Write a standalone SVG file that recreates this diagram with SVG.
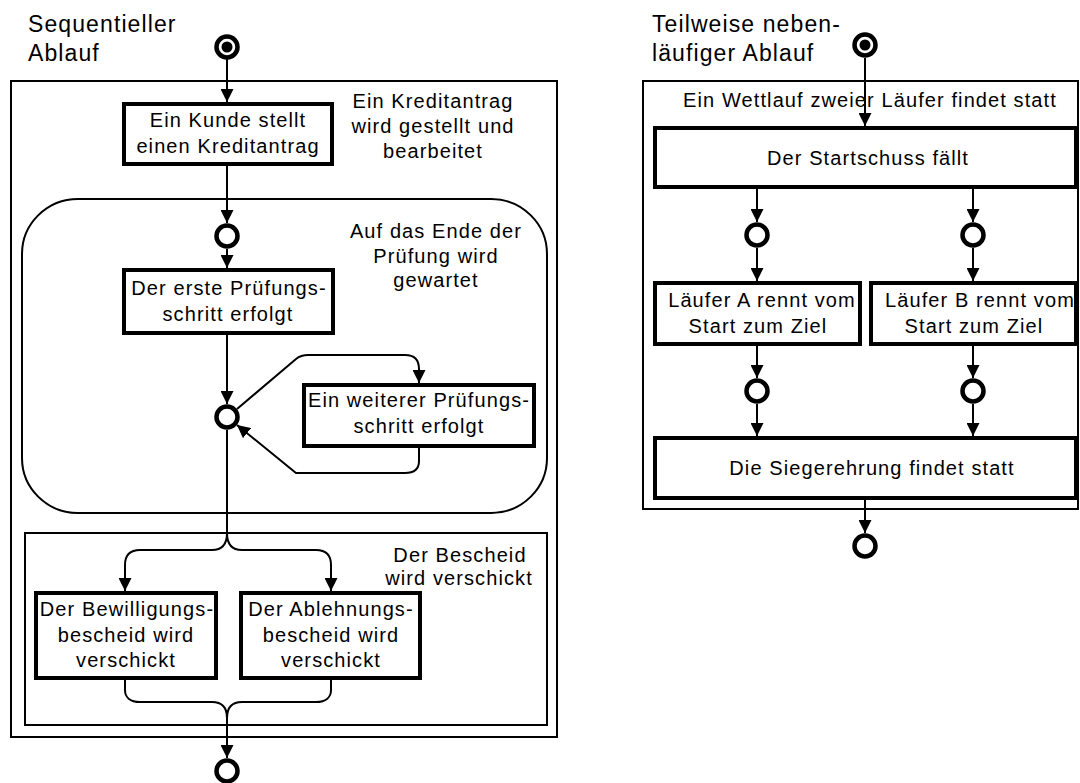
<svg xmlns="http://www.w3.org/2000/svg" width="1080" height="783" viewBox="0 0 1080 783">
<defs>
<marker id="ah" viewBox="0 0 13 13" markerWidth="13" markerHeight="13" refX="13" refY="6.5" orient="auto" markerUnits="userSpaceOnUse"><path d="M0,0 L13,6.5 L0,13 Z" fill="#000"/></marker>
<style>
.t{font-family:"Liberation Sans",Arial,sans-serif;font-size:20px;letter-spacing:1.1px;fill:#000}
.c{text-anchor:middle}
.ti{font-size:23px}
.act{fill:#fff;stroke:#000;stroke-width:4}
.cont{fill:none;stroke:#000;stroke-width:2}
.st{fill:#fff;stroke:#000;stroke-width:4.5}
.cn{fill:none;stroke:#000;stroke-width:2}
.ar{marker-end:url(#ah)}
</style>
</defs>
<rect width="1080" height="783" fill="#fff"/>

<!-- containers -->
<g id="seq-panel">
  <text class="t ti" x="28" y="32">Sequentieller</text>
  <text class="t ti" x="28" y="61">Ablauf</text>
  <rect class="cont" x="11" y="81" width="546" height="656"/>
  <text class="t c" x="433" y="108">Ein Kreditantrag</text>
  <text class="t c" x="433" y="133">wird gestellt und</text>
  <text class="t c" x="433" y="158">bearbeitet</text>
</g>
<g id="pruefung-region">
  <rect class="cont" x="22" y="199" width="525" height="314" rx="56" ry="55"/>
  <text class="t c" x="436" y="238">Auf das Ende der</text>
  <text class="t c" x="436" y="263">Prüfung wird</text>
  <text class="t c" x="436" y="287">gewartet</text>
</g>
<g id="bescheid-region">
  <rect class="cont" x="25" y="533" width="522" height="192"/>
  <text class="t c" x="460" y="562">Der Bescheid</text>
  <text class="t c" x="459" y="585">wird verschickt</text>
</g>
<g id="par-panel">
  <text class="t ti" x="652" y="32">Teilweise neben-</text>
  <text class="t ti" x="652" y="61">läufiger Ablauf</text>
  <rect class="cont" x="643" y="81" width="435" height="428"/>
  <text class="t c" x="870" y="107">Ein Wettlauf zweier Läufer findet statt</text>
</g>

<!-- connectors -->
<g id="connectors">
  <path class="cn ar" d="M227 59 L227 102"/>
  <path class="cn ar" d="M227 166 L227 223"/>
  <path class="cn ar" d="M227 249 L227 268"/>
  <path class="cn ar" d="M227 335 L227 404"/>
  <path class="cn ar" d="M237 409 L296 359 Q301 355 308 355 L405 355 Q419 355 419 369 L419 383"/>
  <path class="cn ar" d="M419 448 L419 461 Q419 473 405 473 L296 473 L237 425"/>
  <path class="cn" d="M227 430 L227 533"/>
  <path class="cn ar" d="M227 533 C227 545 222 550 212 550 L140 550 C130 550 125 555 125 565 L125 591"/>
  <path class="cn ar" d="M227 533 C227 545 232 550 242 550 L316 550 C326 550 331 555 331 565 L331 591"/>
  <path class="cn" d="M125 680 L125 690 C125 697 130 702 140 702 L212 702 C222 702 227 708 227 718"/>
  <path class="cn" d="M331 680 L331 690 C331 697 326 702 316 702 L242 702 C232 702 227 708 227 718"/>
  <path class="cn ar" d="M227 718 L227 758"/>

  <path class="cn ar" d="M865 58 L865 126"/>
  <path class="cn ar" d="M757 189 L757 222"/>
  <path class="cn ar" d="M973 189 L973 222"/>
  <path class="cn ar" d="M757 248 L757 281"/>
  <path class="cn ar" d="M973 248 L973 281"/>
  <path class="cn ar" d="M757 346 L757 378"/>
  <path class="cn ar" d="M973 346 L973 378"/>
  <path class="cn ar" d="M757 404 L757 436"/>
  <path class="cn ar" d="M973 404 L973 436"/>
  <path class="cn ar" d="M865 500 L865 533"/>
</g>

<!-- left nodes -->
<g id="start-seq">
  <circle class="st" cx="227" cy="47" r="10.5"/>
  <circle cx="227" cy="47" r="5.5" fill="#000"/>
</g>
<g id="kunde">
  <rect class="act" x="124" y="104" width="208" height="60"/>
  <text class="t c" x="228" y="127">Ein Kunde stellt</text>
  <text class="t c" x="228" y="153">einen Kreditantrag</text>
</g>
<g id="state-1">
  <circle class="st" cx="227" cy="236" r="10.5"/>
</g>
<g id="erste-pruefung">
  <rect class="act" x="124" y="270" width="209" height="63"/>
  <text class="t c" x="229" y="295">Der erste Prüfungs-</text>
  <text class="t c" x="228" y="321">schritt erfolgt</text>
</g>
<g id="state-2">
  <circle class="st" cx="227" cy="417" r="10.5"/>
</g>
<g id="weitere-pruefung">
  <rect class="act" x="304" y="385" width="230" height="61"/>
  <text class="t c" x="419" y="407">Ein weiterer Prüfungs-</text>
  <text class="t c" x="419" y="433">schritt erfolgt</text>
</g>
<g id="bewilligung">
  <rect class="act" x="36" y="593" width="180" height="85"/>
  <text class="t c" x="127" y="616">Der Bewilligungs-</text>
  <text class="t c" x="126" y="642">bescheid wird</text>
  <text class="t c" x="126" y="667">verschickt</text>
</g>
<g id="ablehnung">
  <rect class="act" x="241" y="593" width="179" height="85"/>
  <text class="t c" x="331" y="616">Der Ablehnungs-</text>
  <text class="t c" x="331" y="642">bescheid wird</text>
  <text class="t c" x="331" y="667">verschickt</text>
</g>
<g id="end-seq">
  <circle class="st" cx="227" cy="771" r="10.5"/>
</g>

<!-- right nodes -->
<g id="start-par">
  <circle class="st" cx="865" cy="45" r="10.5"/>
  <circle cx="865" cy="45" r="5.5" fill="#000"/>
</g>
<g id="startschuss">
  <rect class="act" x="655" y="128" width="421" height="59"/>
  <text class="t c" x="868" y="165">Der Startschuss fällt</text>
</g>
<g id="state-a1"><circle class="st" cx="757" cy="235" r="10.5"/></g>
<g id="state-b1"><circle class="st" cx="973" cy="235" r="10.5"/></g>
<g id="laeufer-a">
  <rect class="act" x="655" y="283" width="205" height="61"/>
  <text class="t c" x="762" y="307">Läufer A rennt vom</text>
  <text class="t c" x="758" y="333">Start zum Ziel</text>
</g>
<g id="laeufer-b">
  <rect class="act" x="871" y="283" width="205" height="61"/>
  <text class="t c" x="980" y="307">Läufer B rennt vom</text>
  <text class="t c" x="974" y="333">Start zum Ziel</text>
</g>
<g id="state-a2"><circle class="st" cx="757" cy="391" r="10.5"/></g>
<g id="state-b2"><circle class="st" cx="973" cy="391" r="10.5"/></g>
<g id="siegerehrung">
  <rect class="act" x="655" y="438" width="421" height="60"/>
  <text class="t c" x="872" y="475">Die Siegerehrung findet statt</text>
</g>
<g id="end-par"><circle class="st" cx="865" cy="546" r="10.5"/></g>
</svg>
